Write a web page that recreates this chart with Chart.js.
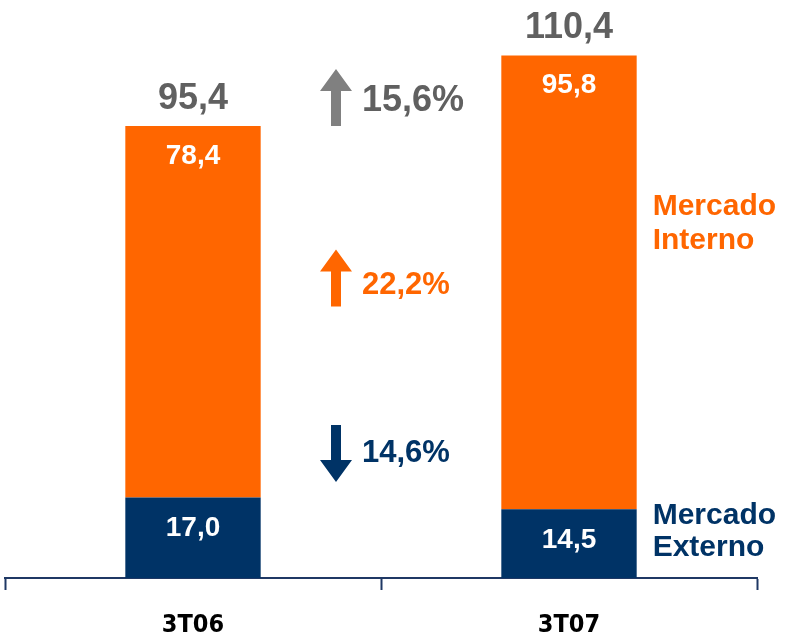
<!DOCTYPE html>
<html>
<head>
<meta charset="utf-8">
<script src="https://cdn.jsdelivr.net/npm/chart.js@4.4.1/dist/chart.umd.min.js"></script>
<style>
  html, body { margin: 0; padding: 0; background: #fff; }
  #wrap { width: 787px; height: 640px; }
</style>
</head>
<body>
<div id="wrap"><canvas id="chart" width="787" height="640"></canvas></div>
<script>
// values (R$ milhões)
var categories = ["3T06", "3T07"];
var externo = [17.0, 14.5];
var interno = [78.4, 95.8];
var totais = [95.4, 110.4];

// variation between the two quarters
var variacaoLabels = ["15,6%", "22,2%", "14,6%"];
var variacaoSentido = ["up", "up", "down"];

var ORANGE = "#FF6600";
var NAVY = "#003366";
var GRAY = "#808080";
var FONT = "'Liberation Sans', Arial, sans-serif";

function fmt(v) {
  return v.toFixed(1).replace(".", ",");
}

function drawArrow(ctx, cx, yTop, yBottom, dir, color) {
  var shaft = 10, head = 32, headLen = 22;
  ctx.save();
  ctx.fillStyle = color;
  ctx.beginPath();
  if (dir === "up") {
    ctx.moveTo(cx, yTop);
    ctx.lineTo(cx + head / 2, yTop + headLen);
    ctx.lineTo(cx + shaft / 2, yTop + headLen);
    ctx.lineTo(cx + shaft / 2, yBottom);
    ctx.lineTo(cx - shaft / 2, yBottom);
    ctx.lineTo(cx - shaft / 2, yTop + headLen);
    ctx.lineTo(cx - head / 2, yTop + headLen);
  } else {
    ctx.moveTo(cx, yBottom);
    ctx.lineTo(cx + head / 2, yBottom - headLen);
    ctx.lineTo(cx + shaft / 2, yBottom - headLen);
    ctx.lineTo(cx + shaft / 2, yTop);
    ctx.lineTo(cx - shaft / 2, yTop);
    ctx.lineTo(cx - shaft / 2, yBottom - headLen);
    ctx.lineTo(cx - head / 2, yBottom - headLen);
  }
  ctx.closePath();
  ctx.fill();
  ctx.restore();
}

var labelsPlugin = {
  id: "labelsPlugin",
  afterDatasetsDraw: function (chart) {
    var ctx = chart.ctx;
    var xs = chart.scales.x, ys = chart.scales.y;
    var metaExt = chart.getDatasetMeta(0);
    var metaInt = chart.getDatasetMeta(1);
    ctx.save();
    ctx.textAlign = "center";
    ctx.textBaseline = "middle";

    for (var i = 0; i < categories.length; i++) {
      var e = metaExt.data[i], n = metaInt.data[i];
      // values inside the segments
      ctx.fillStyle = "#fff";
      ctx.font = "bold 28px " + FONT;
      ctx.fillText(fmt(externo[i]), e.x, e.y + 31);
      ctx.fillText(fmt(interno[i]), n.x, n.y + 30);
      // totals above
      ctx.fillStyle = "#606060";
      ctx.font = "bold 36px " + FONT;
      ctx.fillText(fmt(totais[i]), n.x, n.y - 27);
    }

    // variation arrows between the bars
    var mid = xs.getPixelForValue(0.5);
    var arrowX = mid - 45;
    var textX = mid - 19;
    var colors = [GRAY, ORANGE, NAVY];
    var textColors = ["#606060", ORANGE, NAVY];
    var sizes = [36, 31, 31];
    var centers = [ys.getPixelForValue(100.6), ys.getPixelForValue(61.8), ys.getPixelForValue(26.2)];
    var arrowCenters = [ys.getPixelForValue(101.4), ys.getPixelForValue(63.3), ys.getPixelForValue(26.3)];
    for (var k = 0; k < variacaoLabels.length; k++) {
      var ac = arrowCenters[k];
      drawArrow(ctx, arrowX, ac - 28.5, ac + 28.5, variacaoSentido[k], colors[k]);
      ctx.textAlign = "left";
      ctx.fillStyle = textColors[k];
      ctx.font = "bold " + sizes[k] + "px " + FONT;
      ctx.fillText(variacaoLabels[k], textX, centers[k]);
    }

    // series names to the right of the last bar
    var last = metaInt.data[categories.length - 1];
    var lx = last.x + last.width / 2 + 16;
    ctx.textAlign = "left";
    ctx.font = "bold 30px " + FONT;
    ctx.fillStyle = ORANGE;
    ctx.fillText("Mercado", lx, ys.getPixelForValue(78.3));
    ctx.fillText("Interno", lx, ys.getPixelForValue(71.2));
    ctx.fillStyle = NAVY;
    ctx.fillText("Mercado", lx, ys.getPixelForValue(13.1));
    ctx.fillText("Externo", lx, ys.getPixelForValue(6.3));
    ctx.restore();
  }
};

var ctx = document.getElementById("chart").getContext("2d");
var chart = new Chart(ctx, {
  type: "bar",
  data: {
    labels: categories,
    datasets: [
      { label: "Mercado Externo", data: externo, backgroundColor: NAVY, borderWidth: 0 },
      { label: "Mercado Interno", data: interno, backgroundColor: ORANGE, borderWidth: 0 }
    ]
  },
  options: {
    responsive: false,
    animation: false,
    layout: { padding: { left: 5, right: 30, top: 0, bottom: 0 } },
    datasets: { bar: { barPercentage: 0.36, categoryPercentage: 1.0 } },
    plugins: { legend: { display: false }, tooltip: { enabled: false } },
    scales: {
      x: {
        stacked: true,
        offset: true,
        grid: {
          offset: true,
          drawOnChartArea: false,
          drawTicks: true,
          tickLength: 12,
          tickWidth: 2,
          tickColor: "#1F3864"
        },
        border: { display: true, color: "#1F3864", width: 2 },
        ticks: {
          color: "#000",
          padding: 20,
          font: { family: "'DejaVu Sans Condensed', 'Liberation Sans Narrow', " + FONT, size: 25, weight: "bold" }
        },
        afterFit: function (scale) { scale.height = 62; }
      },
      y: {
        stacked: true,
        display: false,
        min: 0,
        max: 122
      }
    }
  },
  plugins: [labelsPlugin]
});
</script>
</body>
</html>
